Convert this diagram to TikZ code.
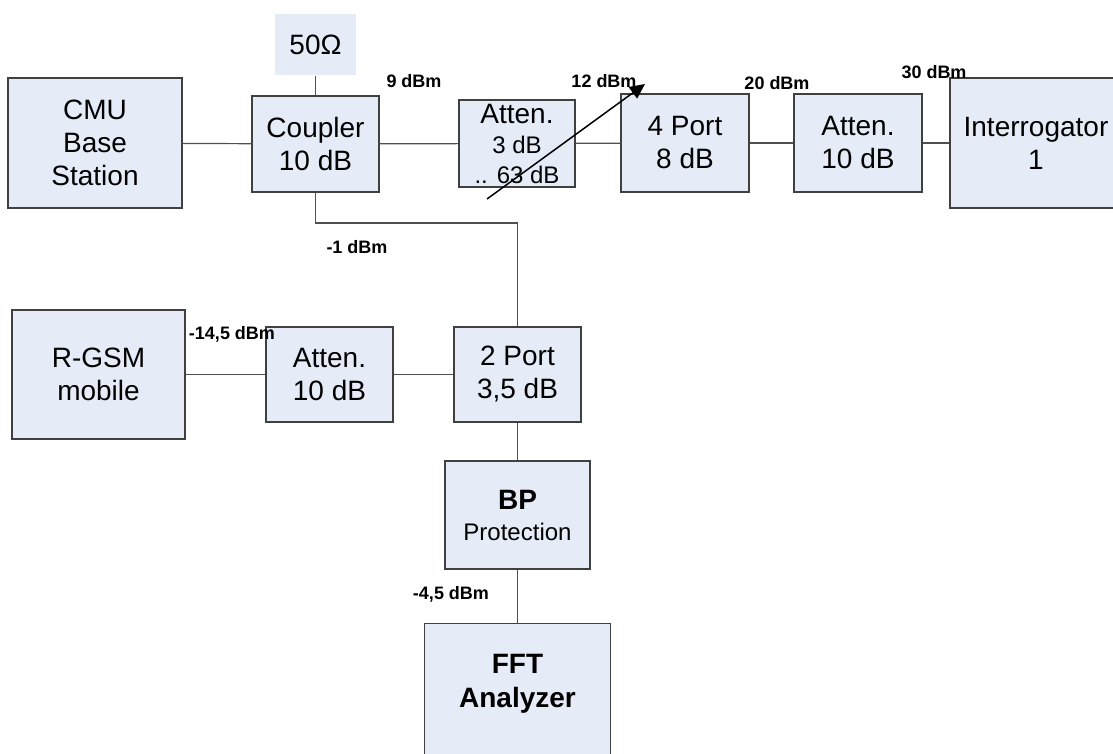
\documentclass[tikz,border=0pt]{standalone}
\usepackage{fontspec}
\setmainfont{Liberation Sans}
\usetikzlibrary{arrows.meta}
\definecolor{boxfill}{RGB}{230,236,247}
\definecolor{boxline}{RGB}{64,64,64}
\definecolor{wirecol}{RGB}{80,80,80}
\newcommand{\smalltxt}{\fontsize{24}{30}\selectfont}
\begin{document}
\begin{tikzpicture}[x=1pt,y=-1pt,
    blk/.style={draw=boxline,line width=1.2pt,fill=boxfill,align=center,inner sep=0pt,
        font=\fontsize{28}{33}\selectfont},
    lvl/.style={font=\bfseries\fontsize{18}{20}\selectfont,inner sep=0pt,anchor=base},
    wire/.style={draw=wirecol,line width=1.2pt}]
    \clip(0,0)rectangle(1113,754);
    % upper chain
    \node[blk,minimum width=174pt,minimum height=130pt](cmu)at(95,143){CMU\\Base\\Station};
    \node[blk,minimum width=127pt,minimum height=96pt](coupler)at(315.5,144){Coupler\\10 dB};
    \node[blk,draw=none,minimum width=81pt,minimum height=61pt](term)at(315.5,44.5){50Ω};
    \node[blk,minimum width=116pt,minimum height=87pt,font=\fontsize{28}{30}\selectfont](vatt)at(517,143.5)
        {Atten.\\{\smalltxt 3 dB}\\{\smalltxt .. 63 dB}};
    \node[blk,minimum width=128pt,minimum height=98pt](fourport)at(685,143){4 Port\\8 dB};
    \node[blk,minimum width=128pt,minimum height=98pt](attA)at(858,143){Atten.\\10 dB};
    \node[blk,minimum width=172pt,minimum height=130pt](interr)at(1036,143){Interrogator\\1};
    % lower chain
    \node[blk,minimum width=173pt,minimum height=129pt](rgsm)at(98.5,374.5){R-GSM\\mobile};
    \node[blk,minimum width=127pt,minimum height=95pt](attB)at(329.5,374.5){Atten.\\10 dB};
    \node[blk,minimum width=127pt,minimum height=95pt](twoport)at(517.5,374.5){2 Port\\3,5 dB};
    \node[blk,minimum width=145pt,minimum height=108pt,font=\fontsize{28}{31}\selectfont](bp)at(517.5,515)
        {\textbf{BP}\\{\smalltxt Protection}};
    \node[blk,minimum width=186pt,minimum height=170pt,anchor=north,text depth=56pt,
        font=\bfseries\fontsize{28}{34}\selectfont](fft)at(517.5,623){FFT\\Analyzer};
    \coordinate(bend)at(517.5,223);
    % connections
    \draw[wire](cmu)--(coupler);
    \draw[wire](coupler)--(vatt);
    \draw[wire](vatt)--(fourport);
    \draw[wire](fourport)--(attA);
    \draw[wire](attA)--(interr);
    \draw[wire](term)--(coupler);
    \draw[wire](coupler.south)|-(bend)--(twoport);
    \draw[wire](rgsm)--(attB);
    \draw[wire](attB)--(twoport);
    \draw[wire](twoport)--(bp);
    \draw[wire](bp)--(fft);
    % variable attenuator arrow
    \coordinate(varlo)at(487,199);
    \coordinate(varhi)at(645,84);
    \draw[-{Triangle[length=15pt,width=14pt]},line width=1.5pt](varlo)--(varhi);
    % power levels
    \node[lvl](p1)at(414,88){9 dBm};
    \node[lvl](p2)at(604,88){12 dBm};
    \node[lvl](p3)at(777,90){20 dBm};
    \node[lvl](p4)at(934,79){30 dBm};
    \node[lvl](p5)at(357,253){-1 dBm};
    \node[lvl](p6)at(232,339){-14,5 dBm};
    \node[lvl](p7)at(451,599){-4,5 dBm};
\end{tikzpicture}
\end{document}
